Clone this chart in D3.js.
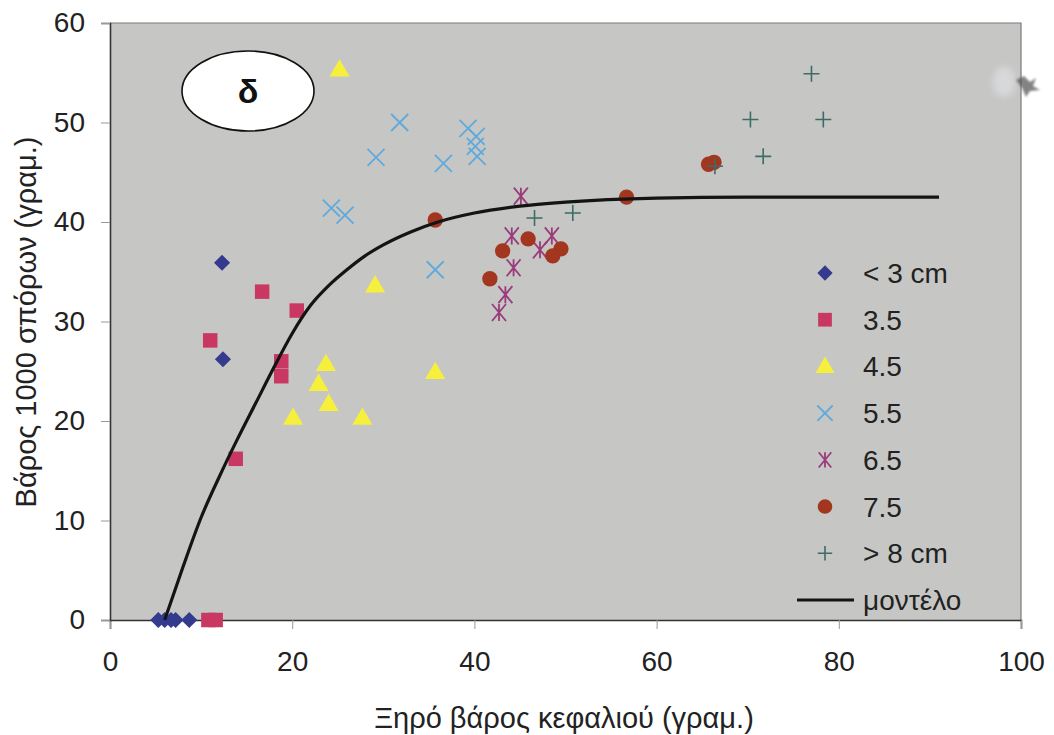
<!DOCTYPE html>
<html>
<head>
<meta charset="utf-8">
<script src="https://cdn.jsdelivr.net/npm/d3@7"></script>
<style>
  html, body { margin: 0; padding: 0; background: #ffffff; }
  svg { display: block; font-family: "Liberation Sans", Arial, sans-serif; }
</style>
</head>
<body>
<svg id="chart" width="1054" height="735"></svg>
<script>
// Head dry weight (x) vs 1000-seed weight (y), grouped by head size class
const xTicks = [0, 20, 40, 60, 80, 100];
const yTicks = [0, 10, 20, 30, 40, 50, 60];

const lt3 = [[12.3, 35.9], [12.4, 26.2], [5.3, 0], [6.0, 0], [6.7, 0], [7.2, 0], [8.7, 0]];
const s35 = [[16.7, 33.0], [20.5, 31.1], [11.0, 28.1], [18.8, 26.0], [18.8, 24.5], [13.8, 16.2], [10.8, 0], [11.6, 0]];
const s45 = [[25.2, 55.3], [29.1, 33.6], [23.7, 25.7], [22.9, 23.7], [24.0, 21.7], [20.1, 20.3], [27.7, 20.3], [35.7, 24.9]];
const s55 = [[31.8, 50.0], [39.3, 49.4], [40.2, 48.6], [40.1, 47.6], [40.3, 46.6], [29.2, 46.5], [36.6, 45.9], [24.3, 41.4], [25.8, 40.7], [35.7, 35.2]];
const s65 = [[45.1, 42.6], [44.1, 38.6], [48.5, 38.6], [47.2, 37.2], [44.3, 35.4], [43.4, 32.7], [42.7, 30.9]];
const s75 = [[35.7, 40.2], [45.9, 38.3], [43.1, 37.1], [41.7, 34.3], [49.5, 37.3], [48.6, 36.6], [56.7, 42.5], [65.7, 45.8], [66.3, 46.0]];
const gt8 = [[46.6, 40.4], [50.8, 40.9], [77.0, 54.9], [70.3, 50.3], [78.3, 50.3], [71.7, 46.6], [66.4, 45.6]];

// fitted model (saturating curve)
const model = [[6, 0], [8, 5.3], [10, 10.3], [12, 14.4], [14, 18.2], [16, 21.8], [18, 25.4],
  [20, 28.8], [22, 31.6], [24, 33.6], [26, 35.2], [28, 36.6], [30, 37.7], [33, 39.0], [36, 40.0],
  [40, 40.9], [45, 41.6], [50, 42.0], [60, 42.4], [70, 42.5], [91, 42.5]];

const seriesNames = ["< 3 cm", "3.5", "4.5", "5.5", "6.5", "7.5", "> 8 cm"];
const modelName = "μοντέλο";
const xTitle = "Ξηρό βάρος κεφαλιού (γραμ.)";
const yTitle = "Βάρος 1000 σπόρων (γραμ.)";
const panelLabel = "δ";

const seriesData = [lt3, s35, s45, s55, s65, s75, gt8];
const seriesStyle = [
  { shape: "diamond", color: "#343b8f" },
  { shape: "square", color: "#c93863" },
  { shape: "triangle", color: "#f6ef3c" },
  { shape: "xmark", color: "#5ea9dd" },
  { shape: "star", color: "#9a3b7c" },
  { shape: "circle", color: "#a3361f" },
  { shape: "plus", color: "#3d6b66" }
];

const svg = d3.select("#chart");
const plotL = 110, plotR = 1021, plotT = 23, plotB = 620;

const x = d3.scaleLinear().domain([0, 100]).range([plotL, plotR]);
const y = d3.scaleLinear().domain([0, 60]).range([plotB, plotT]);

const defs = svg.append("defs");
defs.append("filter").attr("id", "soft").attr("x", "-50%").attr("y", "-50%").attr("width", "200%").attr("height", "200%")
  .append("feGaussianBlur").attr("stdDeviation", 3);
defs.append("filter").attr("id", "softer").attr("x", "-50%").attr("y", "-50%").attr("width", "200%").attr("height", "200%")
  .append("feGaussianBlur").attr("stdDeviation", 1.2);

// plot area
svg.append("rect")
  .attr("x", plotL).attr("y", plotT)
  .attr("width", plotR - plotL).attr("height", plotB - plotT)
  .attr("fill", "#c6c7c4");

svg.append("path")
  .attr("d", `M${plotL},${plotT}H${plotR}V${plotB}`)
  .attr("fill", "none").attr("stroke", "#7a7a7a").attr("stroke-width", 1.2);

// axes
const xAxis = svg.append("g").attr("transform", `translate(0,${plotB})`)
  .call(d3.axisBottom(x).tickValues(xTicks).tickSize(9).tickPadding(22).tickFormat(d3.format("d")));
const yAxis = svg.append("g").attr("transform", `translate(${plotL},0)`)
  .call(d3.axisLeft(y).tickValues(yTicks).tickSize(9).tickPadding(16).tickFormat(d3.format("d")));

[xAxis, yAxis].forEach(g => {
  g.select(".domain").attr("stroke", "#333").attr("stroke-width", 1.6);
  g.selectAll(".tick line").attr("stroke", "#999").attr("stroke-width", 1);
  g.selectAll(".tick text").attr("fill", "#222").style("font-size", "28px")
    .style("font-family", "'Liberation Sans', Arial, sans-serif");
});

// axis titles
svg.append("text")
  .attr("x", 564).attr("y", 728)
  .attr("text-anchor", "middle")
  .attr("fill", "#222").style("font-size", "29px")
  .text(xTitle);

svg.append("text")
  .attr("transform", "translate(36,322) rotate(-90)")
  .attr("text-anchor", "middle")
  .attr("fill", "#222").style("font-size", "29px")
  .text(yTitle);

// marker drawing
function marker(g, shape, color, scale) {
  const k = scale || 1;
  switch (shape) {
    case "diamond":
      g.append("path").attr("d", d3.symbol(d3.symbolSquare, 130 * k)()).attr("fill", color)
        .attr("transform", "rotate(45)");
      break;
    case "square":
      g.append("path").attr("d", d3.symbol(d3.symbolSquare, 210 * k)()).attr("fill", color);
      break;
    case "triangle":
      g.append("path").attr("d", d3.symbol(d3.symbolTriangle, 175 * k)()).attr("fill", color)
        .attr("transform", "translate(0,1)");
      break;
    case "circle":
      g.append("path").attr("d", d3.symbol(d3.symbolCircle, 185 * k)()).attr("fill", color);
      break;
    case "xmark": {
      const r = 8.5 * k;
      g.append("path").attr("d", `M${-r},${-r}L${r},${r}M${-r},${r}L${r},${-r}`)
        .attr("stroke", color).attr("stroke-width", 1.8).attr("fill", "none");
      break;
    }
    case "star": {
      const r = 8.5 * k, rx = 7 * k;
      g.append("path").attr("d", `M${-rx},${-r}L${rx},${r}M${-rx},${r}L${rx},${-r}M0,${-r}L0,${r}`)
        .attr("stroke", color).attr("stroke-width", 1.8).attr("fill", "none");
      break;
    }
    case "plus": {
      const r = 8 * k;
      g.append("path").attr("d", `M${-r},0L${r},0M0,${-r}L0,${r}`)
        .attr("stroke", color).attr("stroke-width", 1.6).attr("fill", "none");
      break;
    }
  }
}

// points
const pts = svg.append("g");
seriesData.forEach((data, i) => {
  const st = seriesStyle[i];
  pts.selectAll(null).data(data).enter().append("g")
    .attr("transform", d => `translate(${x(d[0])},${y(d[1])})`)
    .each(function () { marker(d3.select(this), st.shape, st.color); });
});

// fitted model curve
svg.append("path")
  .datum(model)
  .attr("d", d3.line().x(d => x(d[0])).y(d => y(d[1])).curve(d3.curveMonotoneX))
  .attr("fill", "none").attr("stroke", "#141414").attr("stroke-width", 3.2);

// panel tag
svg.append("ellipse")
  .attr("cx", 248).attr("cy", 91).attr("rx", 66).attr("ry", 40)
  .attr("fill", "#ffffff").attr("stroke", "#111").attr("stroke-width", 1.6);
svg.append("text")
  .attr("x", 248).attr("y", 103)
  .attr("text-anchor", "middle")
  .attr("fill", "#111").style("font-size", "34px").style("font-weight", "bold")
  .text(panelLabel);

// legend
const legend = svg.append("g");
const rowY = d3.scaleLinear().domain([0, 7]).range([273, 600]);
seriesNames.forEach((name, i) => {
  const g = legend.append("g").attr("transform", `translate(825,${rowY(i)})`);
  marker(g, seriesStyle[i].shape, seriesStyle[i].color, 0.9);
  legend.append("text")
    .attr("x", 863).attr("y", rowY(i) + 10)
    .attr("fill", "#222").style("font-size", "28px")
    .text(name);
});
legend.append("line")
  .attr("x1", 797).attr("x2", 854).attr("y1", rowY(7)).attr("y2", rowY(7))
  .attr("stroke", "#141414").attr("stroke-width", 3.2);
legend.append("text")
  .attr("x", 863).attr("y", rowY(7) + 10)
  .attr("fill", "#222").style("font-size", "28px")
  .text(modelName);

// small smudge on the right frame edge
svg.append("ellipse").attr("cx", 1004).attr("cy", 82).attr("rx", 11).attr("ry", 15)
  .attr("fill", "#e6e6ee").attr("opacity", 0.55).attr("filter", "url(#soft)");
svg.append("path")
  .attr("d", "M1016,80L1024,76L1030,82L1036,78L1033,86L1040,90L1030,91L1026,97L1022,88Z")
  .attr("fill", "#5a5a5a").attr("opacity", 0.75).attr("filter", "url(#softer)");
</script>
</body>
</html>
